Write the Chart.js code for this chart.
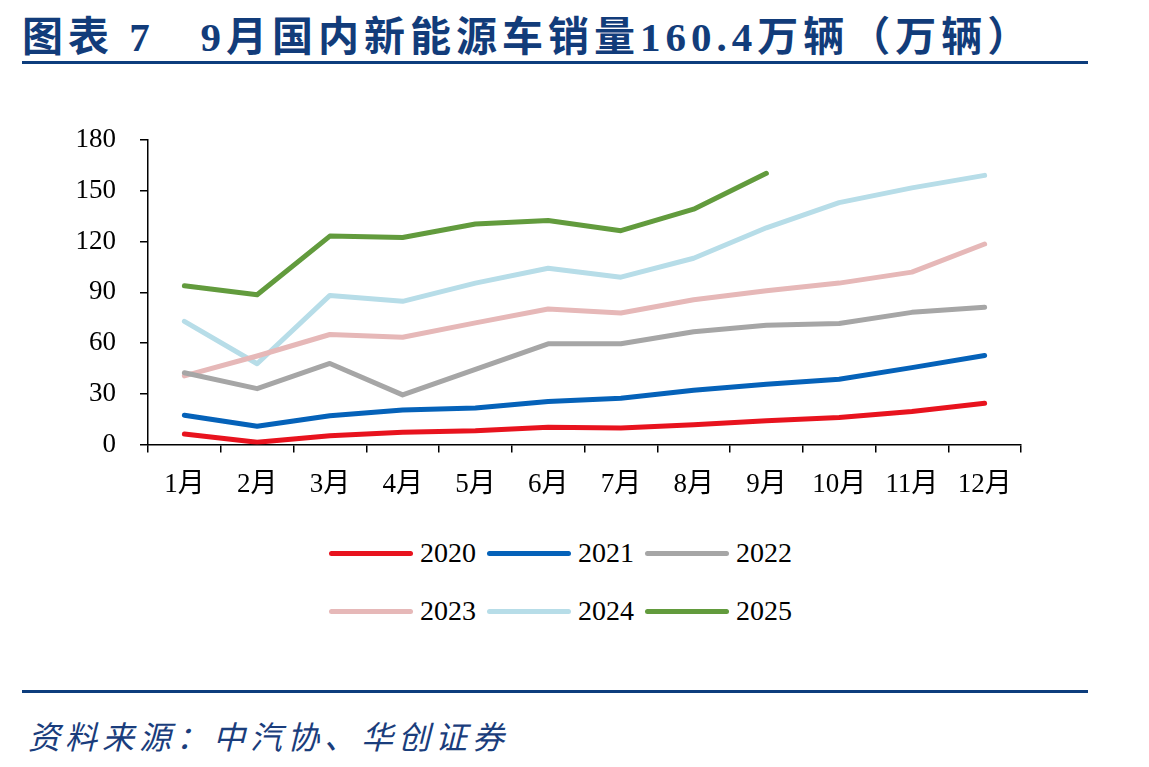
<!DOCTYPE html>
<html>
<head>
<meta charset="utf-8">
<script src="https://cdn.jsdelivr.net/npm/chart.js@4"></script>
<style>
  body { margin: 0; width: 1149px; height: 767px; background: #fff; position: relative; overflow: hidden; }
  .title { position: absolute; left: 22px; top: 3px; font: bold 41px "Liberation Serif", "Noto Sans CJK SC"; color: #123c7a; white-space: pre; letter-spacing: 5px; }
  .rule { position: absolute; left: 22px; width: 1066px; height: 3px; background: #0d3d7d; }
  .source { position: absolute; left: 28px; top: 712px; font: italic 32px "Noto Sans CJK SC"; color: #1a3d7c; letter-spacing: 5px; white-space: pre; }
  #wrap { position: absolute; left: 40px; top: 100px; width: 1000px; height: 417px; }
  .leg { position: absolute; height: 30px; display: flex; align-items: center; }
  .leg i { display: block; width: 84px; height: 5px; border-radius: 3px; margin-right: 7px; }
  .leg span { font: 28px "Liberation Serif"; color: #000; }
</style>
</head>
<body>
<div class="title">图表 7   9月国内新能源车销量160.4万辆（万辆）</div>
<div class="rule" style="top:61px"></div>
<div id="wrap"><canvas id="chart"></canvas></div>
<div id="legend"></div>
<div class="rule" style="top:690px"></div>
<div class="source">资料来源：中汽协、华创证券</div>
<script>
const months = ['1月', '2月', '3月', '4月', '5月', '6月', '7月', '8月', '9月', '10月', '11月', '12月'];
const years = ['2020', '2021', '2022', '2023', '2024', '2025'];
const sales2020 = [6.3, 1.4, 5.3, 7.3, 8.2, 10.2, 9.8, 11.8, 14.1, 16.0, 19.6, 24.5];
const sales2021 = [17.4, 10.8, 17.1, 20.4, 21.6, 25.5, 27.4, 32.2, 35.7, 38.6, 45.5, 52.7];
const sales2022 = [42.5, 33.1, 48.0, 29.4, 44.5, 59.6, 59.6, 66.7, 70.6, 71.6, 78.2, 81.2];
const sales2023 = [40.6, 52.4, 65.1, 63.5, 72.0, 80.2, 77.8, 85.7, 91.0, 95.5, 102.0, 118.6];
const sales2024 = [72.9, 47.8, 88.2, 84.7, 95.5, 104.3, 99.0, 110.2, 128.2, 143.1, 151.8, 159.2];
const sales2025 = [93.9, 88.6, 123.3, 122.5, 130.4, 132.5, 126.5, 139.2, 160.4];
const yTicks = [0, 30, 60, 90, 120, 150, 180];

const seriesData = [sales2020, sales2021, sales2022, sales2023, sales2024, sales2025];
const lineColors = ['#e8131e', '#0562b9', '#a6a6a6', '#e6b8b8', '#b7dde8', '#629b3d'];

const datasets = years.map((y, i) => ({
  label: y,
  data: seriesData[i],
  borderColor: lineColors[i],
  backgroundColor: lineColors[i],
  borderWidth: 5,
  borderCapStyle: 'round',
  borderJoinStyle: 'round',
  pointRadius: 0,
  fill: false,
  tension: 0
}));

// legend: two rows of three
const legend = document.getElementById('legend');
years.forEach((y, i) => {
  const el = document.createElement('div');
  el.className = 'leg';
  el.style.left = (329 + (i % 3) * 158) + 'px';
  el.style.top = (538 + Math.floor(i / 3) * 58) + 'px';
  el.innerHTML = `<i style="background:${lineColors[i]}"></i><span>${y}</span>`;
  legend.appendChild(el);
});

const tickFont = { family: 'Liberation Serif, Noto Sans CJK SC', size: 27 };

new Chart(document.getElementById('chart'), {
  type: 'line',
  data: { labels: months, datasets },
  options: {
    responsive: true,
    maintainAspectRatio: false,
    animation: false,
    layout: { padding: { top: 0, right: 19, bottom: 0, left: 0 } },
    plugins: { legend: { display: false }, tooltip: { enabled: false } },
    scales: {
      x: {
        offset: true,
        grid: { offset: true, drawOnChartArea: false, drawTicks: true, tickLength: 8, color: '#000', lineWidth: 1.5 },
        border: { display: true, color: '#000', width: 1.5 },
        ticks: { color: '#000', font: tickFont, padding: 16, maxRotation: 0, autoSkip: false }
      },
      y: {
        min: 0,
        max: 180,
        afterFit: s => { s.width = 108; },
        afterBuildTicks: s => { s.ticks = yTicks.map(v => ({ value: v })); },
        grid: { drawOnChartArea: false, drawTicks: true, tickLength: 8, color: '#000', lineWidth: 1.5 },
        border: { display: true, color: '#000', width: 1.5 },
        ticks: { color: '#000', font: tickFont, padding: 24 }
      }
    }
  }
});
</script>
</body>
</html>
